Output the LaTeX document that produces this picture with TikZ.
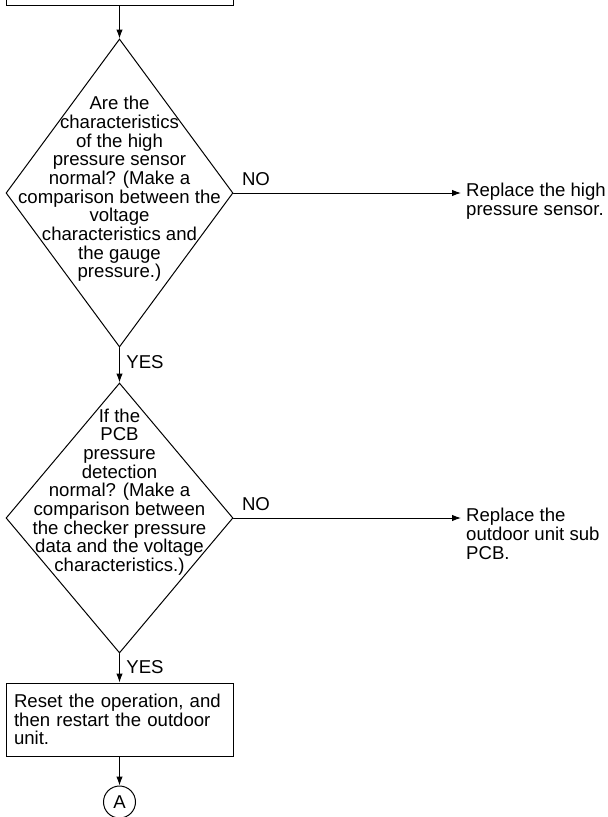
\documentclass[tikz,border=0pt]{standalone}
\usepackage{fontspec}
\setmainfont{Liberation Sans}
\usepackage{tikz}
\usetikzlibrary{arrows.meta,shapes.geometric,positioning}
\tikzset{
  flow/.style={line width=1pt, black},
  arr/.style={flow, -{Latex[length=9pt,width=6.5pt]}},
  stepbox/.style={draw, line width=1pt, rectangle, minimum width=227pt,
                  inner xsep=8pt, inner ysep=0pt, font=\fchart},
  qbox/.style={draw, line width=1pt, diamond, inner sep=0pt,
               minimum width=227pt},
  qtext/.style={align=center, inner sep=0pt, font=\fchart},
  rtext/.style={align=left, inner sep=0pt, font=\fchart, anchor=north west},
  ylabel/.style={inner sep=0pt, font=\fchart},
  conn/.style={draw, line width=1pt, circle, minimum size=32pt,
               inner sep=0pt, font=\fchart},
}
\newcommand{\fchart}{\fontsize{18.6}{18.7}\selectfont}

\begin{document}
\begin{tikzpicture}[x=1pt,y=-1pt,line cap=round]
  \useasboundingbox (0,0) rectangle (608,817);
  \clip (0,0) rectangle (608,817);
  % ====== ust kutu (kesik) ======
  \node[stepbox, minimum height=60pt] (prev) at (119.5,-25) {};
  % ====== soru 1 ======
  \node[qbox, minimum height=308pt] (q1) at (119.5,193) {};
  \node[qtext] (q1t) at (119.5,189) {Are the\\characteristics\\of the high\\pressure sensor\\normal? (Make a\\comparison between the\\voltage\\characteristics and\\the gauge\\pressure.)};
  \coordinate (t1) at (461,193);
  \node[rtext] (r1) at (466,183) {Replace the high\\pressure sensor.};
  \draw[arr] (prev.south) -- (q1.north);
  \draw[arr] (q1.east) -- (t1);
  \node[ylabel] (no1) at (256,179) {NO};
  % ====== soru 2 ======
  \node[qbox, minimum height=270pt] (q2) at (119.5,518) {};
  \node[qtext] (q2t) at (119.5,492) {If the\\PCB\\pressure\\detection\\normal? (Make a\\comparison between\\the checker pressure\\data and the voltage\\characteristics.)};
  \coordinate (t2) at (461,518);
  \node[rtext] (r2) at (466,508) {Replace the\\outdoor unit sub\\PCB.};
  \draw[arr] (q1.south) -- (q2.north);
  \node[ylabel] (yes1) at (145,362) {YES};
  \draw[arr] (q2.east) -- (t2);
  \node[ylabel] (no2) at (256,504) {NO};
  % ====== reset kutusu ======
  \node[stepbox, minimum height=73pt, text width=211pt, align=left] (reset) at (119.5,719.5) {Reset the operation, and\\then restart the outdoor\\unit.};
  \draw[arr] (q2.south) -- (reset.north);
  \node[ylabel] (yes2) at (145,667) {YES};
  % ====== baglanti A ======
  \node[conn] (A) at (119.5,802) {A};
  \draw[arr] (reset.south) -- (A.north);
\end{tikzpicture}
\end{document}
